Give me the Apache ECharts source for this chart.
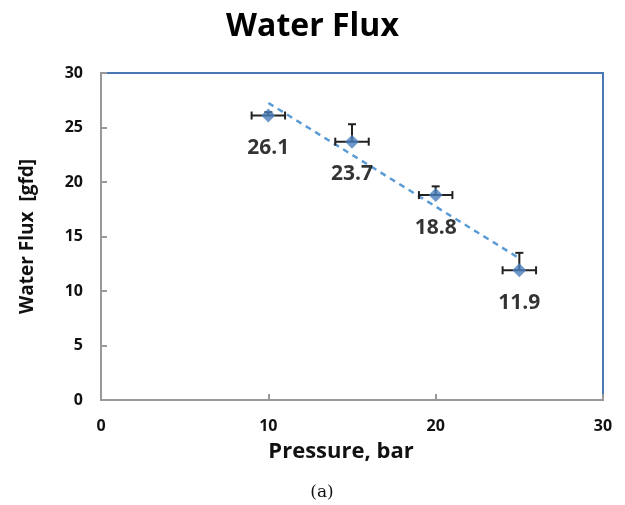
<!DOCTYPE html>
<html><head><meta charset="utf-8">
<script src="https://cdn.jsdelivr.net/npm/echarts@6/dist/echarts.min.js"></script>
<style>html,body{margin:0;padding:0;background:#fff}#c{width:625px;height:505px}</style>
</head><body><div id="c"></div>
<script>
const pressure = [10, 15, 20, 25];
const flux = [26.1, 23.7, 18.8, 11.9];
const xErr = [1.0, 1.0, 1.0, 1.0];
const yErrPlus = [0.3, 1.6, 0.8, 1.6];
const trendX = [10, 25];
const trendY = [27.25, 13.0];
const xTicks = [0, 10, 20, 30];
const yTicks = [0, 5, 10, 15, 20, 25, 30];

const font = '"Open Sans", "DejaVu Sans", sans-serif';
const chart = echarts.init(document.getElementById('c'), null, {renderer: 'canvas'});
const pts = pressure.map((x, i) => [x, flux[i]]);
const errData = pressure.map((x, i) => [x, flux[i], xErr[i], yErrPlus[i]]);

chart.setOption({
  animation: false,
  backgroundColor: '#fff',
  title: {
    text: 'Water Flux', left: 'center', top: 6,
    textStyle: {fontFamily: font, fontSize: 32, fontWeight: 'bold', color: '#000'}
  },
  grid: {left: 101, right: 22, top: 73, bottom: 105, show: true, borderColor: '#4a78b5', borderWidth: 2},
  xAxis: {
    type: 'value', min: 0, max: 30, interval: 10,
    name: 'Pressure, bar', nameLocation: 'middle', nameGap: 41,
    nameTextStyle: {fontFamily: font, fontSize: 22, fontWeight: 'bold', color: '#111', padding: [0, 22, 0, 0]},
    axisLine: {show: true, lineStyle: {color: '#999', width: 2}},
    axisTick: {show: true, inside: true, length: 6, lineStyle: {color: '#999', width: 2}},
    axisLabel: {fontFamily: font, fontSize: 16, fontWeight: 'bold', color: '#111', margin: 18,
      formatter: v => xTicks.includes(v) ? String(v) : ''},
    splitLine: {show: false}
  },
  yAxis: {
    type: 'value', min: 0, max: 30, interval: 5,
    name: 'Water Flux  [gfd]', nameLocation: 'middle', nameGap: 64, nameRotate: 90,
    nameTextStyle: {fontFamily: font, fontSize: 19, fontWeight: 'bold', color: '#111'},
    axisLine: {show: true, lineStyle: {color: '#999', width: 2}},
    axisTick: {show: true, inside: true, length: 6, lineStyle: {color: '#999', width: 2}},
    axisLabel: {fontFamily: font, fontSize: 16, fontWeight: 'bold', color: '#111', margin: 18,
      formatter: v => yTicks.includes(v) ? String(v) : ''},
    splitLine: {show: false}
  },
  graphic: [{
    type: 'text', x: 322, y: 493,
    style: {text: '(a)', font: '17px "DejaVu Serif", "Liberation Serif", serif', fill: '#111',
      align: 'center', verticalAlign: 'middle'}
  }],
  series: [
    {
      type: 'line', data: trendX.map((x, i) => [x, trendY[i]]), symbol: 'none', z: 2,
      lineStyle: {color: '#5b9bd5', width: 2.5, type: [6, 5]}
    },
    {
      type: 'custom', z: 3, data: errData,
      renderItem: function (params, api) {
        const x = api.value(0), y = api.value(1), ex = api.value(2), ey = api.value(3);
        const c = api.coord([x, y]);
        const l = api.coord([x - ex, y]), r = api.coord([x + ex, y]);
        const t = api.coord([x, y + ey]);
        const cap = 4;
        const st = {stroke: '#222', lineWidth: 2};
        return {type: 'group', children: [
          {type: 'line', shape: {x1: l[0], y1: c[1], x2: r[0], y2: c[1]}, style: st},
          {type: 'line', shape: {x1: l[0], y1: c[1] - cap, x2: l[0], y2: c[1] + cap}, style: st},
          {type: 'line', shape: {x1: r[0], y1: c[1] - cap, x2: r[0], y2: c[1] + cap}, style: st},
          {type: 'line', shape: {x1: c[0], y1: c[1], x2: c[0], y2: t[1]}, style: st},
          {type: 'line', shape: {x1: c[0] - cap, y1: t[1], x2: c[0] + cap, y2: t[1]}, style: st}
        ]};
      }
    },
    {
      type: 'scatter', data: pts, symbol: 'diamond', symbolSize: 14, z: 4,
      itemStyle: {color: '#4a7ebb'},
      label: {
        show: true, position: 'bottom', distance: 15,
        formatter: p => p.value[1].toFixed(1),
        fontFamily: font, fontSize: 21, fontWeight: 'bold', color: '#000'
      }
    }
  ]
});
</script></body></html>
